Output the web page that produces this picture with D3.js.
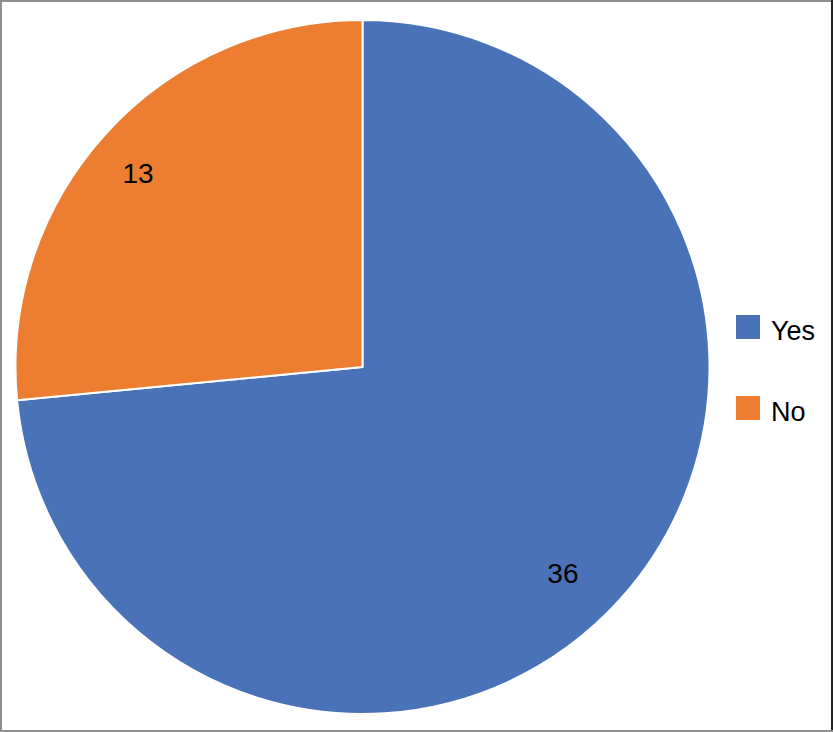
<!DOCTYPE html>
<html>
<head>
<meta charset="utf-8">
<script src="https://cdn.jsdelivr.net/npm/d3@7"></script>
<style>
html,body{margin:0;padding:0;background:#fff;}
svg{display:block;font-family:"Liberation Sans",Arial,sans-serif;}
</style>
</head>
<body>
<svg id="chart" width="833" height="732"></svg>
<script>
const categories = ["Yes", "No"];
const values = [36, 13];
const colors = ["#4A72B8", "#ED7D31"];

const W = 833, H = 732;
const cx = 362.5, cy = 367, R = 347, labelR = 291;
// small layout nudges for data labels (Excel-like placement)
const labelNudge = [[-15, 10], [-9, 2]];
const svg = d3.select("#chart");

// border
svg.append("rect").attr("x",1).attr("y",1).attr("width",W-2).attr("height",H-2)
  .attr("fill","#fff").attr("stroke","#8f8f8f").attr("stroke-width",2);
svg.append("line").attr("x1",W-1).attr("x2",W-1).attr("y1",0).attr("y2",H-2)
  .attr("stroke","#222").attr("stroke-width",2);

const data = categories.map((c,i)=>({cat:c, val:values[i], color:colors[i], i:i}));
const pie = d3.pie().value(d=>d.val).sort(null);
const arcs = pie(data);
const arc = d3.arc().innerRadius(0).outerRadius(R);
const labelArc = d3.arc().innerRadius(labelR).outerRadius(labelR);

const g = svg.append("g").attr("transform",`translate(${cx},${cy})`);
g.selectAll("path").data(arcs).enter().append("path")
  .attr("d",arc).attr("fill",d=>d.data.color)
  .attr("stroke","#fff").attr("stroke-width",2).attr("stroke-linejoin","round");

g.selectAll("text").data(arcs).enter().append("text")
  .attr("x",d=>labelArc.centroid(d)[0] + labelNudge[d.data.i][0])
  .attr("y",d=>labelArc.centroid(d)[1] + labelNudge[d.data.i][1] + 10)
  .attr("text-anchor","middle")
  .attr("font-size",28).attr("fill","#000")
  .text(d=>d.data.val);

// legend
const leg = svg.append("g");
const legBase = [339, 420];
data.forEach((d,i)=>{
  leg.append("rect").attr("x",736).attr("y",legBase[i]-24).attr("width",24).attr("height",24)
    .attr("fill",d.color);
  leg.append("text").attr("x",771).attr("y",legBase[i]+0.5)
    .attr("font-size",27).attr("fill","#000").text(d.cat);
});
</script>
</body>
</html>
